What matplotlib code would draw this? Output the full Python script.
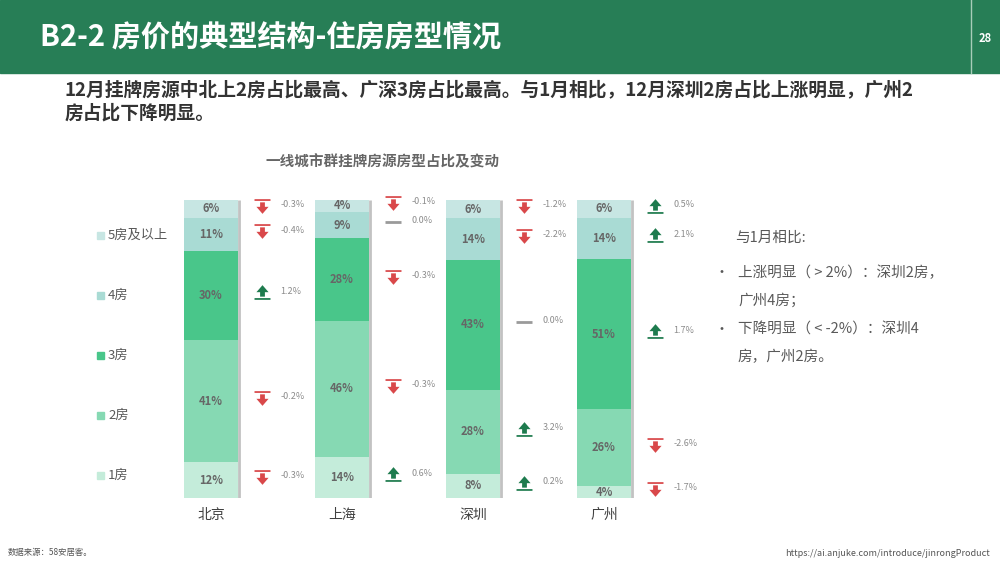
import matplotlib.pyplot as plt
from matplotlib.patches import Rectangle
from matplotlib.path import Path
from matplotlib.lines import Line2D

plt.rcParams['font.family'] = ['Noto Sans CJK SC', 'DejaVu Sans']

# Data (shares in %, change vs January in percentage points)
cities = ['北京', '上海', '深圳', '广州']
rooms = ['1房', '2房', '3房', '4房', '5房及以上']
share_1 = [12, 14, 8, 4]
share_2 = [41, 46, 28, 26]
share_3 = [30, 28, 43, 51]
share_4 = [11, 9, 14, 14]
share_5 = [6, 4, 6, 6]
change_1 = [-0.3, 0.6, 0.2, -1.7]
change_2 = [-0.2, -0.3, 3.2, -2.6]
change_3 = [1.2, -0.3, 0.0, 1.7]
change_4 = [-0.4, 0.0, -2.2, 2.1]
change_5 = [-0.3, -0.1, -1.2, 0.5]

shares = [share_1, share_2, share_3, share_4, share_5]
changes = [change_1, change_2, change_3, change_4, change_5]
colors = ['#C4ECDA', '#86D9B3', '#49C68A', '#A9DBD4', '#C7E6E3']

W, H = 1000, 563
fig = plt.figure(figsize=(10, 5.63), dpi=100)
fig.patch.set_facecolor('white')

def fx(px):
    return px / W

def fy(py):
    return 1 - py / H

# header band
fig.patches.append(Rectangle((0, fy(73)), 1, 73 / H, transform=fig.transFigure,
                             color='#277E56', zorder=0))
fig.add_artist(Line2D([fx(971), fx(971)], [fy(0), fy(73)], transform=fig.transFigure,
                      color='#A8CDB9', lw=1))
fig.text(fx(40), fy(38), 'B2-2 房价的典型结构-住房房型情况', color='white',
         fontsize=21, fontweight='bold', va='center', ha='left')
fig.text(fx(985), fy(38), '28', color='white', fontsize=8, fontweight='bold',
         va='center', ha='center')

# subtitle
fig.text(fx(65), fy(90), '12月挂牌房源中北上2房占比最高、广深3房占比最高。与1月相比，12月深圳2房占比上涨明显，广州2',
         color='#333333', fontsize=13.5, fontweight='bold', va='center', ha='left')
fig.text(fx(65), fy(113), '房占比下降明显。', color='#333333', fontsize=13.5,
         fontweight='bold', va='center', ha='left')

# chart title
fig.text(fx(382), fy(161), '一线城市群挂牌房源房型占比及变动', color='#666666',
         fontsize=10.5, fontweight='bold', va='center', ha='center')

# legend
for i, room in enumerate(rooms):
    ypx = 475 - 60 * i
    fig.patches.append(Rectangle((fx(97), fy(ypx + 3.5)), 7 / W, 7 / H,
                                 transform=fig.transFigure, color=colors[i]))
    fig.text(fx(108), fy(ypx), room, color='#595959', fontsize=9.5, va='center', ha='left')

# stacked bars
ax = fig.add_axes([fx(150), fy(498), 550 / W, 298 / H])
ax.set_xlim(-0.466, 3.733)
ax.set_ylim(0, 100)
ax.axis('off')

x = list(range(len(cities)))
totals = [sum(s[j] for s in shares) for j in x]
bw = 0.41

# down arrow with bar on top
down_verts = [(-0.5, 0.46), (0.5, 0.46), (0.5, 0.35), (-0.5, 0.35), (-0.5, 0.46),
              (-0.15, 0.26), (0.15, 0.26), (0.15, -0.02), (0.38, -0.02), (0, -0.46),
              (-0.38, -0.02), (-0.15, -0.02), (-0.15, 0.26)]
down_codes = [Path.MOVETO, Path.LINETO, Path.LINETO, Path.LINETO, Path.CLOSEPOLY,
              Path.MOVETO, Path.LINETO, Path.LINETO, Path.LINETO, Path.LINETO,
              Path.LINETO, Path.LINETO, Path.CLOSEPOLY]
down_arrow = Path(down_verts, down_codes)
up_arrow = Path([(vx, -vy) for vx, vy in down_verts], down_codes)

bottoms = [0.0] * len(x)
for i, room in enumerate(rooms):
    heights = [shares[i][j] / totals[j] * 100 for j in x]
    ax.bar(x, heights, bottom=bottoms, width=bw, color=colors[i], zorder=2)
    for j in x:
        yc = bottoms[j] + heights[j] / 2
        ax.text(j, yc, f'{shares[i][j]}%', ha='center', va='center',
                fontsize=8, fontweight='bold', color='#666666', zorder=3)
        v = changes[i][j]
        ya = yc + 1.0
        if v > 0:
            ax.plot(j + 0.39, ya, marker=up_arrow, ms=11.5, color='#1E7B4E', mew=0,
                    linestyle='none', clip_on=False)
        elif v < 0:
            ax.plot(j + 0.39, ya, marker=down_arrow, ms=11.5, color='#D9484A', mew=0,
                    linestyle='none', clip_on=False)
        else:
            ax.plot(j + 0.39, ya, marker='_', ms=11, mew=2, color='#9A9A9A',
                    linestyle='none', clip_on=False)
        ax.text(j + 0.53, ya + 0.4, f'{v:.1f}%', ha='left', va='center',
                fontsize=6.5, color='#8C8C8C', clip_on=False)
    bottoms = [bottoms[j] + heights[j] for j in x]

# bar shadow on right edge
ax.vlines([j + bw / 2 + 0.008 for j in x], 0, 100, color='#C2C2C2', lw=2, zorder=1)

for j, city in enumerate(cities):
    ax.text(j, -5.8, city, ha='center', va='center', fontsize=10, color='#404040')

# right comment text
tc = '#595959'
fig.text(fx(735), fy(238), '与1月相比:', color=tc, fontsize=10.5, va='center', ha='left')
fig.text(fx(715), fy(273), '•', color=tc, fontsize=10, va='center', ha='left')
fig.text(fx(738), fy(273), '上涨明显（ > 2%）：深圳2房，', color=tc, fontsize=10.5, va='center', ha='left')
fig.text(fx(738), fy(300), '广州4房；', color=tc, fontsize=10.5, va='center', ha='left')
fig.text(fx(715), fy(330), '•', color=tc, fontsize=10, va='center', ha='left')
fig.text(fx(738), fy(330), '下降明显（ < -2%）：深圳4', color=tc, fontsize=10.5, va='center', ha='left')
fig.text(fx(738), fy(357), '房，广州2房。', color=tc, fontsize=10.5, va='center', ha='left')

# footer
fig.text(fx(8), fy(553), '数据来源：58安居客。', color='#555555', fontsize=6, va='center', ha='left')
fig.text(fx(990), fy(553), 'https://ai.anjuke.com/introduce/jinrongProduct', color='#555555',
         fontsize=6.5, va='center', ha='right')

fig.savefig('out.png', dpi=100, facecolor='white')
